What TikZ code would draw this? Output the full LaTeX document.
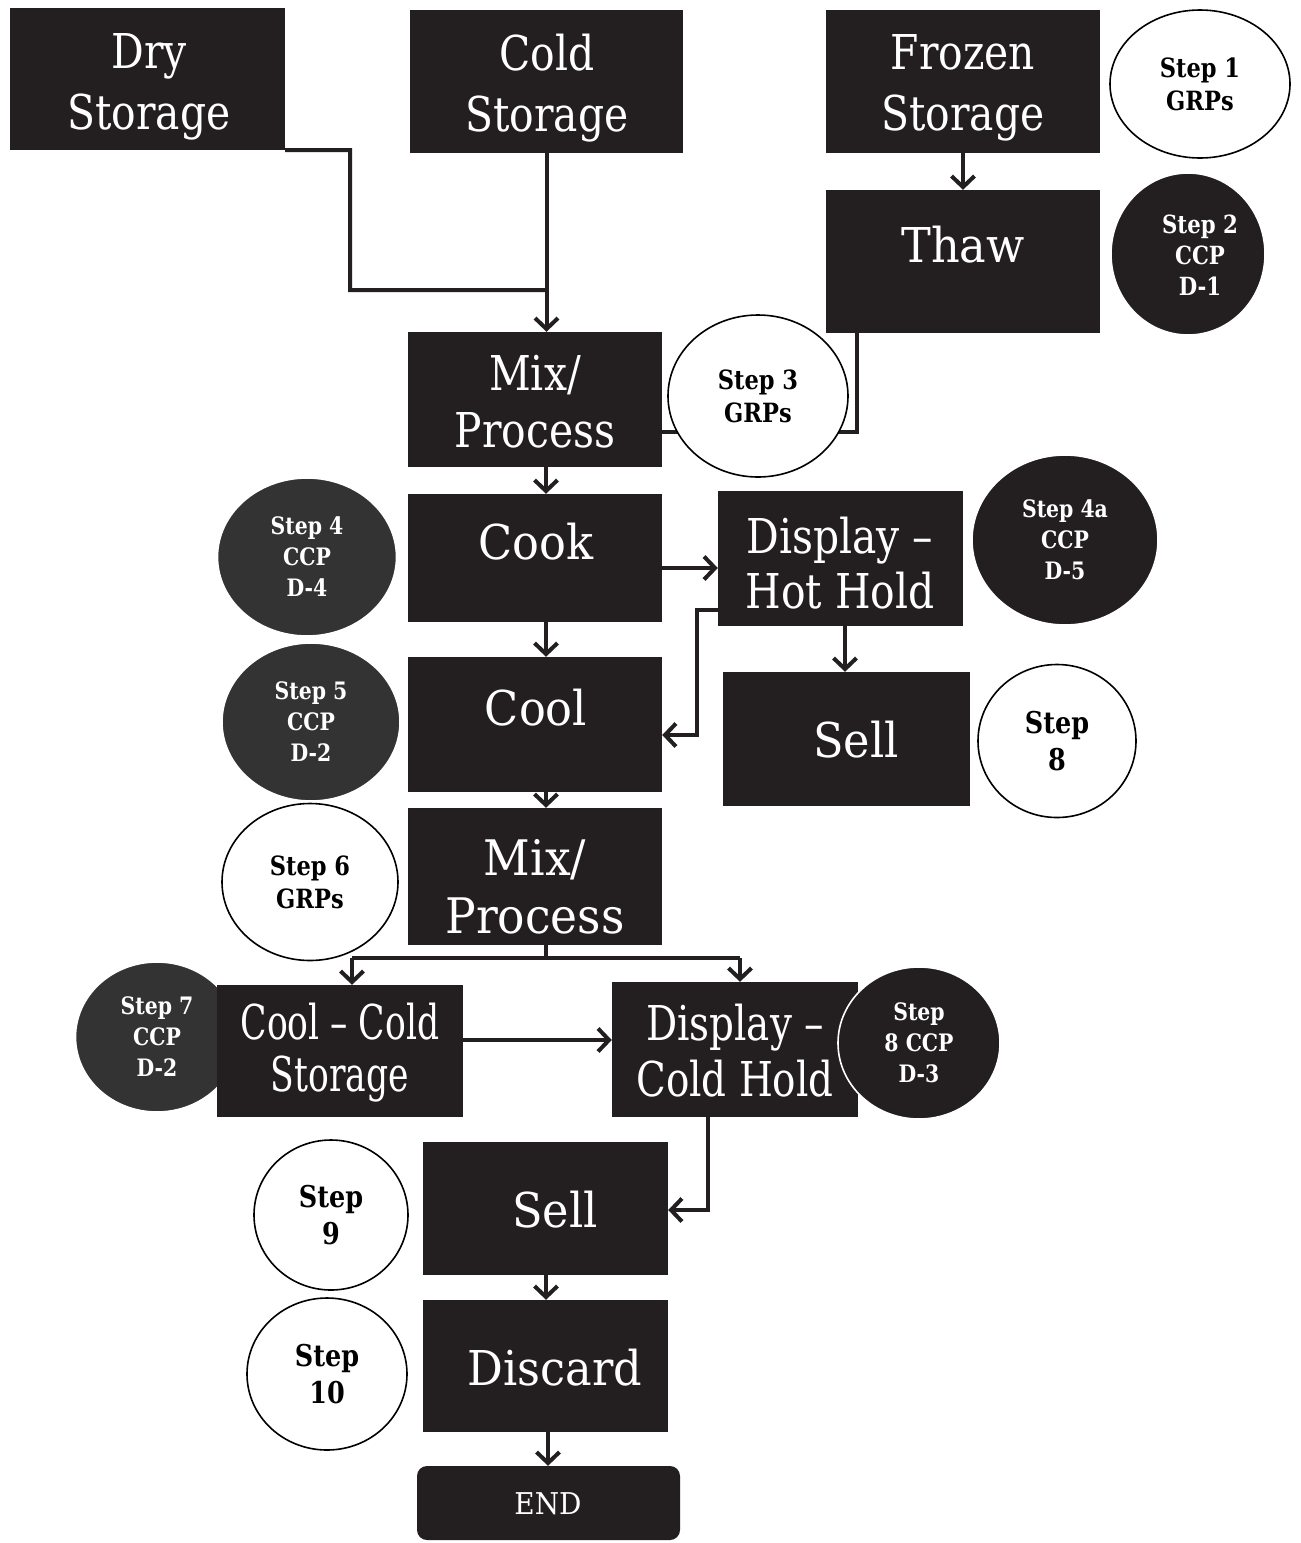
\documentclass[tikz,border=0pt]{standalone}
\usepackage{fontspec}
\setmainfont{DejaVu Serif}[FakeStretch=0.85]
\newfontfamily\fW{DejaVu Serif}[FakeStretch=0.93]
\newfontfamily\fC{DejaVu Serif}[FakeStretch=0.72]
\newfontfamily\fD{DejaVu Serif}[FakeStretch=0.81]
\usetikzlibrary{arrows.meta,shapes.geometric}
\definecolor{boxc}{HTML}{231F20}
\definecolor{speck}{HTML}{333333}
\begin{document}
\begin{tikzpicture}[x=1pt,y=-1pt,
  blk/.style={rectangle,fill=boxc,draw=none,inner sep=0pt},
  btxt/.style={text=white,align=center,inner sep=0pt,font=\fontsize{48}{61}\selectfont},
  wtxt/.style={btxt,font=\fW\fontsize{48}{60}\selectfont},
  circbase/.style={ellipse,inner sep=0pt,align=center,font=\bfseries\fontsize{24}{31}\selectfont},
  wc/.style={circbase,fill=white,draw=black,line width=1.6pt,text=black},
  dc/.style={circbase,fill=boxc,draw=white,line width=1.6pt,text=white},
  sc/.style={circbase,fill=speck,draw=white,line width=1.6pt,text=white},
  big/.style={font=\bfseries\fontsize{30}{37}\selectfont},
  mid/.style={font=\bfseries\fontsize{26.5}{33}\selectfont},
  ln/.style={line width=4pt,draw=boxc},
  ar/.style={ln,-{Straight Barb[length=11pt,width=23pt]}}]
\useasboundingbox[fill=white] (0,0) rectangle (1301,1543);

% circle behind box
\node[sc,minimum width=163pt,minimum height=150pt] (s7) at (157,1037) {Step 7\\CCP\\D-2};

% boxes
\node[blk,minimum width=275pt,minimum height=142pt] (dry) at (147.5,79) {};
\node[blk,minimum width=273pt,minimum height=143pt] (cold) at (546.5,81.5) {};
\node[blk,minimum width=274pt,minimum height=143pt] (frozen) at (963,81.5) {};
\node[blk,minimum width=274pt,minimum height=143pt] (thaw) at (963,261.5) {};
\node[blk,minimum width=254pt,minimum height=135pt] (mix1) at (535,399.5) {};
\node[blk,minimum width=254pt,minimum height=128pt] (cook) at (535,558) {};
\node[blk,minimum width=245pt,minimum height=135pt] (dhh) at (840.5,558.5) {};
\node[blk,minimum width=254pt,minimum height=135pt] (cool) at (535,724.5) {};
\node[blk,minimum width=247pt,minimum height=134pt] (sell1) at (846.5,739) {};
\node[blk,minimum width=254pt,minimum height=137pt] (mix2) at (535,876.5) {};
\node[blk,minimum width=246pt,minimum height=132pt] (ccs) at (340,1051) {};
\node[blk,minimum width=246pt,minimum height=135pt] (dch) at (735,1049.5) {};
\node[blk,minimum width=245pt,minimum height=133pt] (sell2) at (545.5,1208.5) {};
\node[blk,minimum width=245pt,minimum height=132pt] (disc) at (545.5,1366) {};
\node[blk,rounded corners=10pt,minimum width=263pt,minimum height=74pt] (end) at (548.5,1503) {};

% connectors
\coordinate (a1) at (350,150);
\coordinate (a2) at (350,290);
\coordinate (a3) at (546,290);
\draw[ln] (dry.south east) -- (a1) -- (a2) -- (a3);
\draw[ar] (cold.south) -- (cold.south |- mix1.north);
\draw[ar] (frozen.south) -- (thaw.north);
\coordinate (b1) at (857,432);
\draw[ln] (thaw.south -| b1) -- (b1) -- (b1 -| mix1.east);
\coordinate (vx) at (546,0);
\draw[ar] (mix1.south -| vx) -- (cook.north -| vx);
\coordinate (c1) at (690,568);
\draw[ar] (cook.east |- c1) -- (dhh.west |- c1);
\draw[ar] (cook.south -| vx) -- (cool.north -| vx);
\coordinate (d1) at (697,610);
\coordinate (d2) at (697,735);
\draw[ar] (dhh.west |- d1) -- (d1) -- (d2) -- (cool.east |- d2);
\coordinate (e1) at (845,0);
\draw[ar] (dhh.south -| e1) -- (sell1.north -| e1);
\draw[ar] (cool.south -| vx) -- (mix2.north -| vx);
\coordinate (f0) at (546,958);
\coordinate (f1) at (352,958);
\coordinate (f2) at (740,958);
\draw[ln] (mix2.south -| vx) -- (f0);
\draw[ln] (f1) -- (f2);
\draw[ar] (f1) -- (ccs.north -| f1);
\draw[ar] (f2) -- (dch.north -| f2);
\coordinate (g1) at (0,1040);
\draw[ar] (ccs.east |- g1) -- (dch.west |- g1);
\coordinate (h1) at (708,1210);
\draw[ar] (dch.south -| h1) -- (h1) -- (sell2.east |- h1);
\draw[ar] (sell2.south -| vx) -- (disc.north -| vx);
\coordinate (vx2) at (548,0);
\draw[ar] (disc.south -| vx2) -- (end.north -| vx2);

% box texts
\node[btxt] (dryt) at (149,87) {Dry\\Storage};
\node[btxt] (coldt) at (547,88) {Cold\\Storage};
\node[btxt] (frozent) at (963,88) {Frozen\\Storage};
\node[wtxt] (thawt) at (963,245) {Thaw};
\node[btxt,font=\fontsize{48}{57}\selectfont] (mix1t) at (535,402) {Mix/\\Process};
\node[wtxt] (cookt) at (536,542) {Cook};
\node[btxt,font=\fontsize{48}{55}\selectfont] (dhht) at (840,563) {Display –\\Hot Hold};
\node[wtxt] (coolt) at (536,708) {Cool};
\node[wtxt] (sell1t) at (856,740) {Sell};
\node[wtxt,font=\fW\fontsize{49}{58}\selectfont] (mix2t) at (535,887) {Mix/\\Process};
\node[btxt,font=\fC\fontsize{48}{52}\selectfont] (ccst) at (340,1053) {Cool – Cold\\Storage};
\node[btxt,font=\fD\fontsize{48}{56}\selectfont] (dcht) at (735,1051) {Display –\\Cold Hold};
\node[wtxt] (sell2t) at (555,1210) {Sell};
\node[wtxt] (disct) at (555,1368) {Discard};
\node[btxt,font=\fW\fontsize{30}{36}\selectfont] (endt) at (548,1504) {END};

% circles
\node[wc,mid,minimum width=180pt,minimum height=148pt] (s1) at (1200,84) {Step 1\\GRPs};
\node[dc,minimum width=154pt,minimum height=162pt] (s2) at (1188,254) {};
\node[text=white,align=center,inner sep=0pt,font=\bfseries\fontsize{25}{31}\selectfont] (s2t) at (1200,255) {Step 2\\CCP\\D-1};
\node[wc,mid,minimum width=180pt,minimum height=162pt] (s3) at (758,396) {Step 3\\GRPs};
\node[sc,minimum width=179pt,minimum height=158pt] (s4) at (307,557) {Step 4\\CCP\\D-4};
\node[dc,minimum width=186pt,minimum height=170pt] (s4a) at (1065,540) {Step 4a\\CCP\\D-5};
\node[sc,minimum width=178pt,minimum height=158pt] (s5) at (311,722) {Step 5\\CCP\\D-2};
\node[wc,big,minimum width=158pt,minimum height=153pt] (s8a) at (1057,741) {Step\\8};
\node[wc,mid,minimum width=176pt,minimum height=157pt] (s6) at (310,882) {Step 6\\GRPs};
\node[dc,minimum width=162pt,minimum height=152pt] (s8b) at (919,1043) {Step\\8 CCP\\D-3};
\node[wc,big,minimum width=154pt,minimum height=150pt] (s9) at (331,1215) {Step\\9};
\node[wc,big,minimum width=160pt,minimum height=152pt] (s10) at (327,1374) {Step\\10};
\end{tikzpicture}
\end{document}
